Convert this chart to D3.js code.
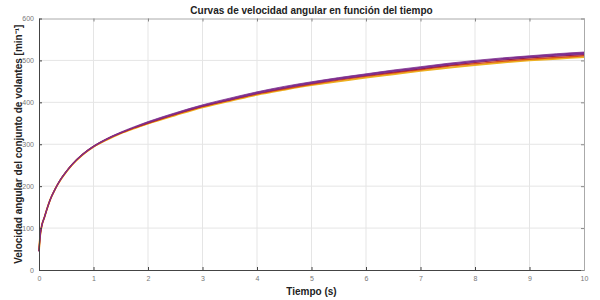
<!DOCTYPE html>
<html><head><meta charset="utf-8">
<script src="https://cdn.jsdelivr.net/npm/d3@7"></script>
<style>body{margin:0;background:#fff}svg{display:block}</style>
</head><body>
<svg id="c" width="600" height="300"></svg>
<script>
const time       = [0,0.02,0.05,0.1,0.15,0.2,0.3,0.4,0.5,0.6,0.8,1,1.25,1.5,1.75,2,2.5,3,3.5,4,4.5,5,5.5,6,6.5,7,7.5,8,8.5,9,9.5,10];
const yellow     = [45,80,105,126,147,166,194,216,234,250,275,294,311,326,338,349,369,388,403,418,430,441,450,459,467,475,482,489,495,500,504,508];
const orange     = [45,80,105,126,147,166,194,216,234,250,275,294,312,327,339,350,371,390,405,420,432,443,453,462,470,478,486,492,498,503,507,511];
const red        = [45,80,105,126,147,166,194,217,235,251,276,295,313,327,340,351,372,391,406,421,434,445,455,464,472,480,488,495,501,506,510,514];
const purpleLow  = [44,79,104,125,146,165,193,216,234,250,275,294,312,327,340,351,372,391,406,421,434,445,455,464,473,481,489,496,502,507,511,515];
const purpleHigh = [46,81,106,127,148,167,195,218,236,252,277,296,314,329,342,354,375,394,410,425,438,449,459,468,477,485,493,500,506,511,516,520];
const xTicks = [0,1,2,3,4,5,6,7,8,9,10];
const yTicks = [0,100,200,300,400,500,600];

const series = [
  {values:yellow, color:"#EDB120", w:1.8},
  {values:orange, color:"#D95319", w:1.5},
  {values:red, color:"#A2142F", w:1.2}
];

const svg = d3.select("#c");
const L=39, R=584, T=18.5, B=270;
const x = d3.scaleLinear().domain([0,10]).range([L,R]);
const y = d3.scaleLinear().domain([0,600]).range([B,T]);

// grid
svg.append("g").selectAll("line").data(xTicks.slice(1,-1)).join("line")
  .attr("x1",d=>x(d)).attr("x2",d=>x(d)).attr("y1",T).attr("y2",B)
  .attr("stroke","#e5e5e5").attr("stroke-width",1);
svg.append("g").selectAll("line").data(yTicks.slice(1,-1)).join("line")
  .attr("y1",d=>y(d)).attr("y2",d=>y(d)).attr("x1",L).attr("x2",R)
  .attr("stroke","#e5e5e5").attr("stroke-width",1);

// lines
const line = d3.line().x((d,i)=>x(time[i])).y(d=>y(d)).curve(d3.curveMonotoneX);
series.forEach(s=>{
  svg.append("path").datum(s.values).attr("d",line)
    .attr("fill","none").attr("stroke",s.color).attr("stroke-width",s.w);
});
const area = d3.area().x((d,i)=>x(time[i])).y0((d,i)=>y(purpleLow[i])).y1((d,i)=>y(purpleHigh[i])).curve(d3.curveMonotoneX);
svg.append("path").datum(purpleHigh).attr("d",area)
  .attr("fill","#7E2F8E").attr("stroke","#7E2F8E").attr("stroke-width",0.8);

// axes
const fmt = d3.format("d");
const ax = svg.append("g").attr("transform",`translate(0,${B})`)
  .call(d3.axisBottom(x).tickValues(xTicks).tickFormat(fmt).tickSizeInner(-3).tickSizeOuter(0).tickPadding(6));
const axT = svg.append("g").attr("transform",`translate(0,${T})`)
  .call(d3.axisTop(x).tickValues(xTicks).tickFormat("").tickSizeInner(-3).tickSizeOuter(0));
const ay = svg.append("g").attr("transform",`translate(${L},0)`)
  .call(d3.axisLeft(y).tickValues(yTicks).tickFormat(fmt).tickSizeInner(-3).tickSizeOuter(0).tickPadding(5));
const ayR = svg.append("g").attr("transform",`translate(${R},0)`)
  .call(d3.axisRight(y).tickValues(yTicks).tickFormat("").tickSizeInner(-3).tickSizeOuter(0));

[ax,ay].forEach(g=>{
  g.select(".domain").attr("stroke","#444");
  g.selectAll(".tick line").attr("stroke","#444");
  g.selectAll("text").attr("font-family","Liberation Sans, Arial, sans-serif").attr("font-size","7px").attr("fill","#777");
});
[axT,ayR].forEach(g=>{
  g.select(".domain").attr("stroke","#aaa");
  g.selectAll(".tick line").attr("stroke","#888");
});

// titles
svg.append("text").attr("x",(L+R)/2).attr("y",14).attr("text-anchor","middle")
  .attr("font-family","Liberation Sans, Arial, sans-serif").attr("font-weight","bold").attr("font-size","10px").attr("fill","#222")
  .text("Curvas de velocidad angular en función del tiempo");
svg.append("text").attr("x",(L+R)/2).attr("y",295).attr("text-anchor","middle")
  .attr("font-family","Liberation Sans, Arial, sans-serif").attr("font-weight","bold").attr("font-size","10px").attr("fill","#222")
  .text("Tiempo (s)");
svg.append("text").attr("transform",`translate(22,${(T+B)/2}) rotate(-90)`).attr("text-anchor","middle")
  .attr("font-family","Liberation Sans, Arial, sans-serif").attr("font-weight","bold").attr("font-size","10px").attr("fill","#222")
  .text("Velocidad angular del conjunto de volantes [min⁻¹]");
</script>
</body></html>
